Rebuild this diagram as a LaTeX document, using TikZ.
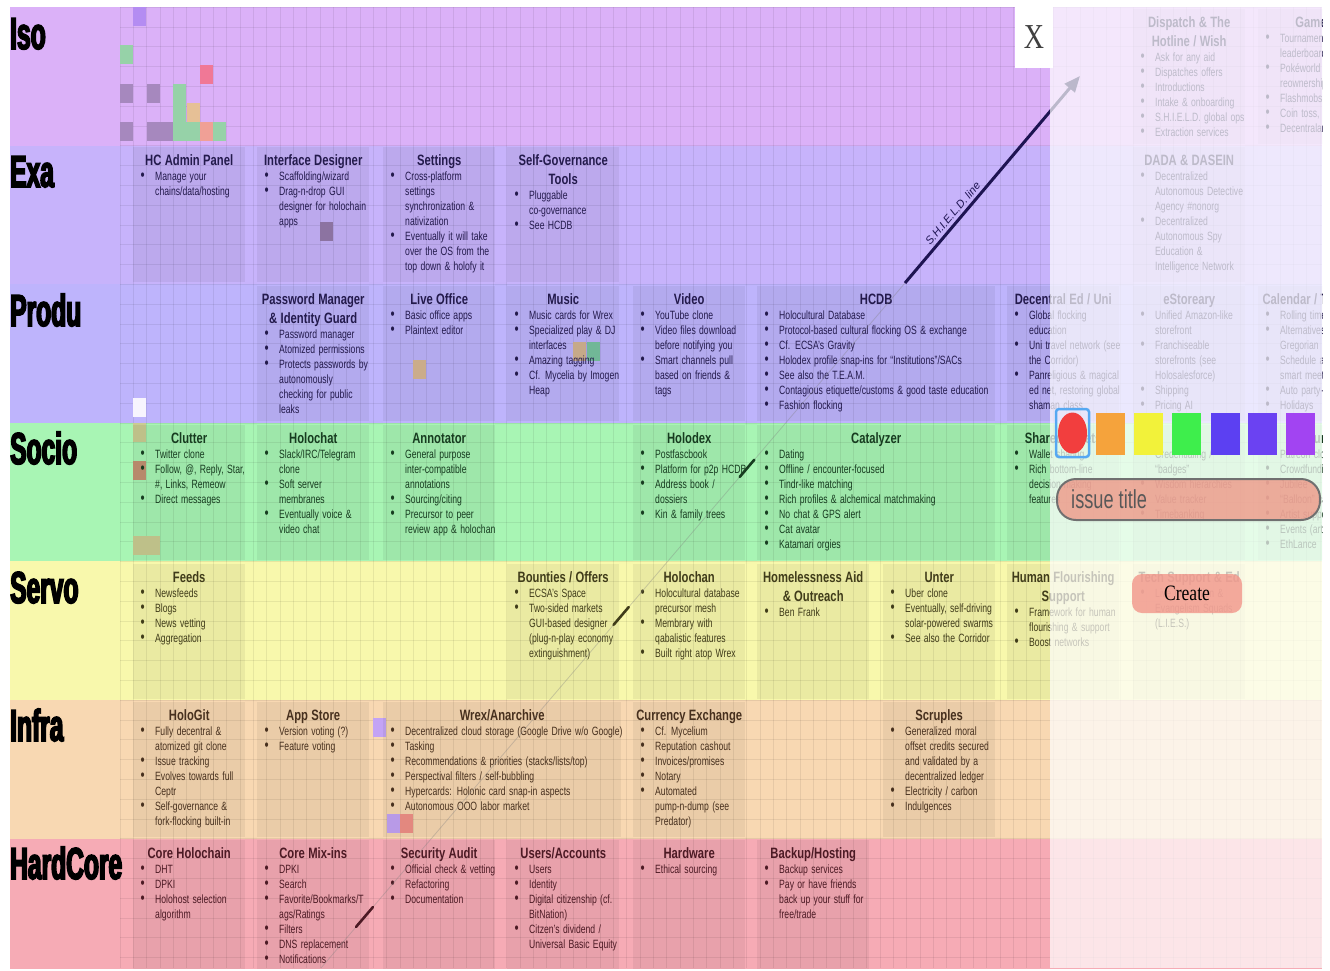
\documentclass[tikz,border=0pt]{standalone}
\usepackage{fontspec}
\setmainfont{Liberation Sans}
\newfontfamily\cardfont[FakeStretch=0.72]{Liberation Sans}
\newfontfamily\titlefont[FakeStretch=0.75]{Liberation Sans}
\newfontfamily\rowfont[FakeStretch=0.55,FakeBold=3.5]{Liberation Sans}
\newfontfamily\pillfont[FakeStretch=0.7]{Liberation Sans}
\newfontfamily\btnfont[FakeStretch=0.8]{Liberation Serif}
\usetikzlibrary{arrows.meta,calc}
\setlength{\parindent}{0pt}
\setlength{\parskip}{0pt}

\definecolor{isoBand}{HTML}{DBB1F8}
\definecolor{exaBand}{HTML}{C7B3FB}
\definecolor{produBand}{HTML}{BEB4FC}
\definecolor{socioBand}{HTML}{A8F5B4}
\definecolor{servoBand}{HTML}{F8F8AC}
\definecolor{infraBand}{HTML}{F8D8B2}
\definecolor{hardBand}{HTML}{F6ABB5}
\definecolor{purpleInk}{HTML}{231A4C}
\definecolor{socioInk}{HTML}{173C20}
\definecolor{servoInk}{HTML}{403C1A}
\definecolor{infraInk}{HTML}{47301E}
\definecolor{hardInk}{HTML}{4C1A24}
\definecolor{shieldInk}{HTML}{1E1452}
\definecolor{swRed}{HTML}{F23E3E}
\definecolor{swOrange}{HTML}{F5A33C}
\definecolor{swYellow}{HTML}{F2F23A}
\definecolor{swGreen}{HTML}{3EEE4C}
\definecolor{swBlue}{HTML}{5C40F2}
\definecolor{swIndigo}{HTML}{6B42F2}
\definecolor{swViolet}{HTML}{A244F2}
\definecolor{swRing}{HTML}{55A8F2}
\definecolor{pillFill}{HTML}{EF8E7E}
\definecolor{pillEdge}{HTML}{707070}
\definecolor{pillText}{HTML}{585858}
\definecolor{btnFill}{HTML}{F29488}
\definecolor{blkViolet}{HTML}{B48CF2}
\definecolor{blkMint}{HTML}{96D2A8}
\definecolor{blkRose}{HTML}{F07896}
\definecolor{blkMauve}{HTML}{A688BE}
\definecolor{blkSand}{HTML}{E6C096}
\definecolor{blkCoral}{HTML}{F0A096}
\definecolor{blkKhaki}{HTML}{CACC92}
\definecolor{blkBrown}{HTML}{C29272}

\newcommand{\itm}{\par\noindent\hangindent=22pt\hangafter=1\makebox[22pt][l]{\hspace{7.5pt}\scalebox{1.35}{\textbullet}}}
\newcommand{\cardtitle}[1]{{\titlefont\bfseries\fontsize{15}{19}\selectfont\centering\strut#1\par}}
\newcommand{\card}[6]{%
  \fill[cardbg] (#2,#3+2) rectangle ++(#4,135);
  \node[cardtext,text width=#4pt] (#1) at (#2,#3+7)
    {\cardtitle{#5}\cardfont\fontsize{12}{15}\selectfont\rightskip=-40pt plus 1fil\relax#6\par};}

\begin{document}
\begin{tikzpicture}[x=1pt,y=-1pt,
  gridline/.style={black,opacity=0.07,line width=0.5pt},
  cardbg/.style={fill=black,fill opacity=0.055},
  cardtext/.style={anchor=north west,inner sep=0pt,align=left},
  rowlabel/.style={anchor=base west,inner sep=0pt,text=black,font=\rowfont\bfseries\fontsize{44.7}{46}\selectfont},
  shieldline/.style={draw=shieldInk,line width=3pt,-{Triangle[length=16pt,width=13pt]}},
  shieldfaint/.style={draw=gray,opacity=0.35,line width=0.8pt},
  shieldbit/.style={line width=2.6pt,line cap=round},
  shieldlabel/.style={font=\itshape\fontsize{11}{13}\selectfont,text=shieldInk,inner sep=1pt},
  fade/.style={fill=white,fill opacity=0.7},
  swatch/.style={minimum width=29pt,minimum height=42pt,inner sep=0pt},
  swring/.style={draw=swRing,line width=2.5pt,rounded corners=3pt,minimum width=33pt,minimum height=48pt,inner sep=0pt},
  issuepill/.style={fill=pillFill,fill opacity=0.72,draw=pillEdge,line width=2pt,rounded corners=19pt,minimum width=263pt,minimum height=41pt},
  createbtn/.style={fill=btnFill,fill opacity=0.78,text opacity=1,rounded corners=10pt,minimum width=110pt,minimum height=39pt,font=\btnfont\fontsize{22}{24}\selectfont,text=black},
  closebox/.style={fill=white,minimum width=38pt,minimum height=61pt,inner sep=0pt,font=\btnfont\fontsize{35}{36}\selectfont,text=black!75}]
\useasboundingbox (0,0) rectangle (1330,970);
\fill[white] (0,0) rectangle (1330,970);
\clip (10,7) rectangle (1322,968);

\foreach \bandcol [count=\k from 0] in {isoBand,exaBand,produBand,socioBand,servoBand,infraBand,hardBand}
  \fill[\bandcol] (10,7+\k*138.6) rectangle (1322,145.6+\k*138.6);
\foreach \i in {0,...,90}
  \draw[gridline] (120+\i*13.333,7) -- (120+\i*13.333,968);
\foreach \j in {0,...,48}
  \draw[gridline] (120,7+\j*19.8) -- (1322,7+\j*19.8);

\fill[blkViolet] (133,7) rectangle ++(13.3,19);
\fill[blkMint] (120,45) rectangle ++(13.3,19);
\fill[blkRose] (200,65) rectangle ++(13.3,19);
\fill[blkMauve] (120,84) rectangle ++(13.3,19);
\fill[blkMauve] (147,84) rectangle ++(13.3,19);
\fill[blkMint] (173,84) rectangle ++(13.3,38);
\fill[blkSand] (187,103) rectangle ++(13.3,19);
\fill[blkMauve] (120,122) rectangle ++(13.3,19);
\fill[blkMauve] (147,122) rectangle ++(26.6,19);
\fill[blkMint] (173,122) rectangle ++(26.6,19);
\fill[blkCoral] (200,122) rectangle ++(13.3,19);
\fill[blkMint] (213,122) rectangle ++(13.3,19);
\fill[blkMauve!90!black] (320,222) rectangle ++(13.3,19);
\fill[blkSand!85!gray] (413,360) rectangle ++(13.3,19);
\fill[white!85!exaBand] (133,398) rectangle ++(13.3,19);
\fill[blkKhaki] (133,423) rectangle ++(13.3,19);
\fill[blkBrown] (133,461) rectangle ++(13.3,19);
\fill[blkKhaki] (133,536) rectangle ++(26.6,19);
\fill[blkSand!80!gray] (573,342) rectangle ++(13.3,19);
\fill[blkMint!80!teal] (587,342) rectangle ++(13.3,19);
\fill[blkViolet!80!white] (373,718) rectangle ++(13.3,19);
\fill[blkViolet!80!white] (387,814) rectangle ++(13.3,19);
\fill[blkCoral!90!red] (400,814) rectangle ++(13.3,19);

\begin{scope}[every node/.append style={text=purpleInk}]
\card{dispatch}{1133}{7}{112}{Dispatch \& The\\Hotline / Wish}{\itm Ask for any aid \itm Dispatches offers \itm Introductions \itm Intake \& onboarding \itm S.H.I.E.L.D. global ops \itm Extraction services}
\card{games}{1258}{7}{112}{Games}{\itm Tournaments \&\newline leaderboards \itm Pokéworld land\newline reownership \itm Flashmobs \itm Coin toss, cards \itm Decentraland}
\card{adminPanel}{133}{145}{112}{HC Admin Panel}{\itm Manage your\newline chains/data/hosting}
\card{interfaceDesigner}{257}{145}{112}{Interface Designer}{\itm Scaffolding/wizard \itm Drag-n-drop GUI\newline designer for holochain\newline apps}
\card{settings}{383}{145}{112}{Settings}{\itm Cross-platform\newline settings\newline synchronization \&\newline nativization \itm Eventually it will take\newline over the OS from the\newline top down \& holofy it}
\card{selfGov}{507}{145}{112}{Self-Governance\\Tools}{\itm Pluggable\newline co-governance \itm See HCDB}
\card{dada}{1133}{145}{112}{DADA \& DASEIN}{\itm Decentralized\newline Autonomous Detective\newline Agency \#nonorg \itm Decentralized\newline Autonomous Spy\newline Education \&\newline Intelligence Network}
\card{passwordManager}{257}{284}{112}{Password Manager\\\& Identity Guard}{\itm Password manager \itm Atomized permissions \itm Protects passwords by\newline autonomously\newline checking for public\newline leaks}
\card{liveOffice}{383}{284}{112}{Live Office}{\itm Basic office apps \itm Plaintext editor}
\card{music}{507}{284}{112}{Music}{\itm Music cards for Wrex \itm Specialized play \& DJ\newline interfaces \itm Amazing tagging \itm Cf. Mycelia by Imogen\newline Heap}
\card{video}{633}{284}{112}{Video}{\itm YouTube clone \itm Video files download\newline before notifying you \itm Smart channels pull\newline based on friends \&\newline tags}
\card{hcdb}{757}{284}{238}{HCDB}{\itm Holocultural Database \itm Protocol-based cultural flocking OS \& exchange \itm Cf. ECSA’s Gravity \itm Holodex profile snap-ins for “Institutions”/SACs \itm See also the T.E.A.M. \itm Contagious etiquette/customs \& good taste education \itm Fashion flocking}
\card{decentralEd}{1007}{284}{112}{Decentral Ed / Uni}{\itm Global flocking\newline education \itm Uni travel network (see\newline the Corridor) \itm Panreligious \& magical\newline ed net, restoring global\newline shaman class}
\card{estoreary}{1133}{284}{112}{eStoreary}{\itm Unified Amazon-like\newline storefront \itm Franchiseable\newline storefronts (see\newline Holosalesforce) \itm Shipping \itm Pricing AI}
\card{calendar}{1258}{284}{112}{Calendar / Timeline}{\itm Rolling timeline \itm Alternatives to\newline Gregorian \itm Schedule and\newline smart meetups \itm Auto party-planning \itm Holidays}
\end{scope}

\begin{scope}[every node/.append style={text=socioInk}]
\card{clutter}{133}{423}{112}{Clutter}{\itm Twitter clone \itm Follow, @, Reply, Star,\newline \#, Links, Remeow \itm Direct messages}
\card{holochat}{257}{423}{112}{Holochat}{\itm Slack/IRC/Telegram\newline clone \itm Soft server\newline membranes \itm Eventually voice \&\newline video chat}
\card{annotator}{383}{423}{112}{Annotator}{\itm General purpose\newline inter-compatible\newline annotations \itm Sourcing/citing \itm Precursor to peer\newline review app \& holochan}
\card{holodex}{633}{423}{112}{Holodex}{\itm Postfascbook \itm Platform for p2p HCDB \itm Address book /\newline dossiers \itm Kin \& family trees}
\card{catalyzer}{757}{423}{238}{Catalyzer}{\itm Dating \itm Offline / encounter-focused \itm Tindr-like matching \itm Rich profiles \& alchemical matchmaking \itm No chat \& GPS alert \itm Cat avatar \itm Katamari orgies}
\card{sharedAssets}{1007}{423}{112}{Shared assets}{\itm Wallet sharing \itm Rich bottom-line\newline decision-making\newline features}
\card{rep}{1133}{423}{112}{Rep}{\itm Credentialing /\newline “badges” \itm Wisdom hierarchies \itm Value tracker \itm Timebanking}
\card{artfund}{1258}{423}{112}{Artfund}{\itm Patreon clone \itm Crowdfunding \itm Jubilee \itm “Balloon” campaigns \itm Artist support \itm Events (art shows) \itm EthLance}
\end{scope}

\begin{scope}[every node/.append style={text=servoInk}]
\card{feeds}{133}{562}{112}{Feeds}{\itm Newsfeeds \itm Blogs \itm News vetting \itm Aggregation}
\card{bounties}{507}{562}{112}{Bounties / Offers}{\itm ECSA’s Space \itm Two-sided markets\newline GUI-based designer\newline (plug-n-play economy\newline extinguishment)}
\card{holochan}{633}{562}{112}{Holochan}{\itm Holocultural database\newline precursor mesh \itm Membrary with\newline qabalistic features \itm Built right atop Wrex}
\card{homelessness}{757}{562}{112}{Homelessness Aid\\\& Outreach}{\itm Ben Frank}
\card{unter}{883}{562}{112}{Unter}{\itm Uber clone \itm Eventually, self-driving\newline solar-powered swarms \itm See also the Corridor}
\card{flourishing}{1007}{562}{112}{Human Flourishing\\Support}{\itm Framework for human\newline flourishing \& support \itm Boost networks}
\card{techSupport}{1133}{562}{112}{Tech Support \& Ed}{\itm Live Instruction \&\newline Evangelism Squads\newline (L.I.E.S.)}
\end{scope}

\begin{scope}[every node/.append style={text=infraInk}]
\card{hologit}{133}{700}{112}{HoloGit}{\itm Fully decentral \&\newline atomized git clone \itm Issue tracking \itm Evolves towards full\newline Ceptr \itm Self-governance \&\newline fork-flocking built-in}
\card{appStore}{257}{700}{112}{App Store}{\itm Version voting (?) \itm Feature voting}
\card{wrex}{383}{700}{238}{Wrex/Anarchive}{\itm Decentralized cloud storage (Google Drive w/o Google) \itm Tasking \itm Recommendations \& priorities (stacks/lists/top) \itm Perspectival filters / self-bubbling \itm Hypercards: Holonic card snap-in aspects \itm Autonomous OOO labor market}
\card{currency}{633}{700}{112}{Currency Exchange}{\itm Cf. Mycelium \itm Reputation cashout \itm Invoices/promises \itm Notary \itm Automated\newline pump-n-dump (see\newline Predator)}
\card{scruples}{883}{700}{112}{Scruples}{\itm Generalized moral\newline offset credits secured\newline and validated by a\newline decentralized ledger \itm Electricity / carbon \itm Indulgences}
\end{scope}

\begin{scope}[every node/.append style={text=hardInk}]
\card{coreHolochain}{133}{838}{112}{Core Holochain}{\itm DHT \itm DPKI \itm Holohost selection\newline algorithm}
\card{coreMixins}{257}{838}{112}{Core Mix-ins}{\itm DPKI \itm Search \itm Favorite/Bookmarks/T\newline ags/Ratings \itm Filters \itm DNS replacement \itm Notifications}
\card{securityAudit}{383}{838}{112}{Security Audit}{\itm Official check \& vetting \itm Refactoring \itm Documentation}
\card{usersAccounts}{507}{838}{112}{Users/Accounts}{\itm Users \itm Identity \itm Digital citizenship (cf.\newline BitNation) \itm Citzen’s dividend /\newline Universal Basic Equity}
\card{hardware}{633}{838}{112}{Hardware}{\itm Ethical sourcing}
\card{backup}{757}{838}{112}{Backup/Hosting}{\itm Backup services \itm Pay or have friends\newline back up your stuff for\newline free/trade}
\end{scope}

\node[rowlabel] (isoLabel) at (10,49) {Iso};
\node[rowlabel] (exaLabel) at (10,187) {Exa};
\node[rowlabel] (produLabel) at (10,326) {Produ};
\node[rowlabel] (socioLabel) at (10,464) {Socio};
\node[rowlabel] (servoLabel) at (10,603) {Servo};
\node[rowlabel] (infraLabel) at (10,741) {Infra};
\node[rowlabel] (hardLabel) at (10,879) {HardCore};

\coordinate (shieldTail) at (321,968);
\coordinate (shieldStart) at (905,283);
\coordinate (shieldHead) at (1080,76);
\draw[shieldfaint] (shieldTail) -- (shieldStart);
\draw[shieldbit,socioInk] ($(shieldStart)!0.258!(shieldTail)$) -- ($(shieldStart)!0.283!(shieldTail)$);
\draw[shieldbit,servoInk] ($(shieldStart)!0.473!(shieldTail)$) -- ($(shieldStart)!0.499!(shieldTail)$);
\draw[shieldbit,hardInk] ($(shieldStart)!0.911!(shieldTail)$) -- ($(shieldStart)!0.940!(shieldTail)$);
\draw[shieldline] (shieldStart) -- node[shieldlabel,pos=0.31,above=2pt,sloped] (shieldLabel) {S.H.I.E.L.D. line} (shieldHead);

\fill[fade] (1050,7) rectangle (1322,968);

\node[closebox] (closeBox) at (1034,37.5) {X};

\node[swring] (swRing) at (1072.5,433) {};
\fill[swRed] (swRing.center) ellipse (14.5pt and 20.5pt);
\node[swatch,fill=swOrange] (swOrange) at (1110.5,434) {};
\node[swatch,fill=swYellow] (swYellow) at (1148.5,434) {};
\node[swatch,fill=swGreen] (swGreen) at (1186.5,434) {};
\node[swatch,fill=swBlue] (swBlue) at (1225,434) {};
\node[swatch,fill=swIndigo] (swIndigo) at (1262.5,434) {};
\node[swatch,fill=swViolet] (swViolet) at (1300.5,434) {};

\node[issuepill] (issuePill) at (1188.5,499.5) {};
\node[anchor=west,inner sep=0pt,text=pillText,font=\pillfont\fontsize{26}{28}\selectfont] (issueText) at ([xshift=15pt]issuePill.west) {issue title};

\node[createbtn] (createBtn) at (1187,593.5) {Create};
\end{tikzpicture}
\end{document}
